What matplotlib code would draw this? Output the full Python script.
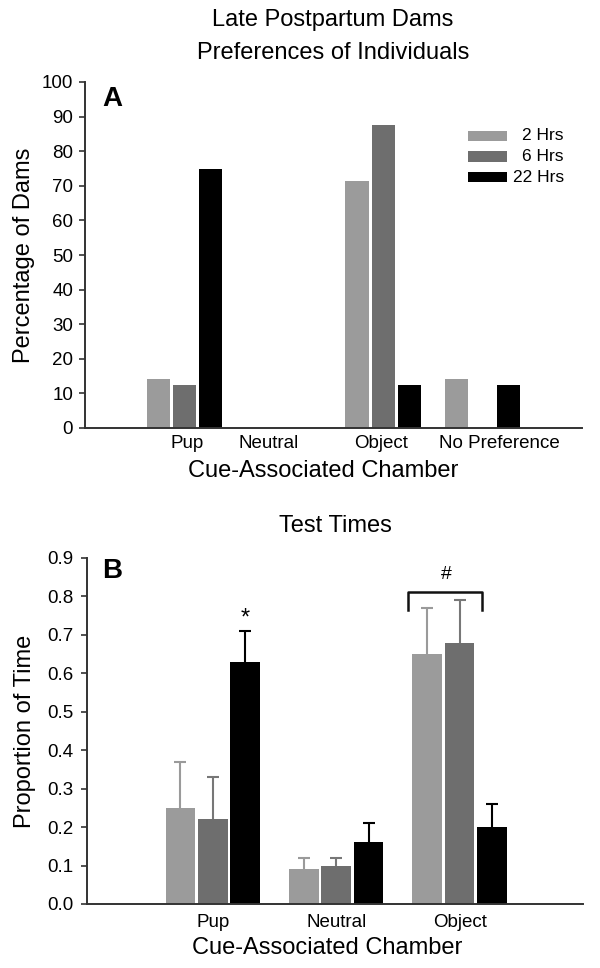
import numpy as np
import matplotlib
matplotlib.use('Agg')
import matplotlib.pyplot as plt
from matplotlib.patches import Rectangle

plt.rcParams['font.family'] = ['Liberation Sans', 'DejaVu Sans']

# panel A data - percentage of dams preferring each chamber
cats_a = ['Pup', 'Neutral', 'Object', 'No Preference']
pct_2h = [14.3, 0, 71.4, 14.3]
pct_6h = [12.5, 0, 87.5, 0]
pct_22h = [75.0, 0, 12.5, 12.5]

# panel B data - proportion of time (mean, upper SEM)
cats_b = ['Pup', 'Neutral', 'Object']
prop_2h = [0.25, 0.09, 0.65]
prop_6h = [0.22, 0.10, 0.68]
prop_22h = [0.63, 0.16, 0.20]
sem_2h = [0.12, 0.03, 0.12]
sem_6h = [0.11, 0.02, 0.11]
sem_22h = [0.08, 0.05, 0.06]

series = ['2 Hrs', '6 Hrs', '22 Hrs']
colors = ['#9b9b9b', '#6e6e6e', '#000000']
err_colors = ['#9a9a9a', '#777777', '#000000']

W, H = 600, 968
fig = plt.figure(figsize=(W / 100, H / 100), dpi=100)

def fx(px):
    return px / W

def fy(py):
    return 1 - py / H

spine_col = '#333333'
tick_fs = 13.5
lab_fs = 17

def style_axes(ax):
    for s in ['top', 'right']:
        ax.spines[s].set_visible(False)
    for s in ['left', 'bottom']:
        ax.spines[s].set_color(spine_col)
        ax.spines[s].set_linewidth(1.4)
    ax.tick_params(axis='y', direction='out', length=4.5, width=1.2,
                   color=spine_col, labelsize=tick_fs, pad=4)

# ---------------- panel A ----------------
axA = fig.add_axes([fx(85), fy(428), fx(497), 346 / H])
step = 0.263
xa = np.arange(len(cats_a))
for i, vals in enumerate([pct_2h, pct_6h, pct_22h]):
    axA.bar(xa + (i - 1) * step, vals, width=0.235, color=colors[i],
            edgecolor='none', zorder=2)
axA.set_xlim(-1.0, 4.0)
axA.set_ylim(0, 100)
axA.set_yticks(np.arange(0, 101, 10))
style_axes(axA)
label_pos_a = [0.025, 0.85, 1.98, 3.17]
axA.set_xticks(label_pos_a)
axA.set_xticklabels(cats_a)
axA.tick_params(axis='x', length=0, labelsize=tick_fs, pad=5)
axA.set_xlabel('Cue-Associated Chamber', fontsize=lab_fs)
axA.xaxis.set_label_coords(0.479, -0.123)
axA.xaxis.label.set_verticalalignment('center')
axA.set_ylabel('Percentage of Dams', fontsize=lab_fs)
axA.yaxis.set_label_coords(-0.123, 0.5)
axA.yaxis.label.set_verticalalignment('center')

fig.text(fx(112), fy(99), 'A', fontsize=20, fontweight='bold',
         ha='center', va='center')
fig.text(fx(333), fy(20), 'Late Postpartum Dams', fontsize=lab_fs,
         ha='center', va='center')
fig.text(fx(333), fy(53), 'Preferences of Individuals', fontsize=lab_fs,
         ha='center', va='center')

# legend drawn by hand (labels right aligned)
for i, (lab, y) in enumerate(zip(series, [136, 156.5, 177])):
    fig.patches.append(Rectangle((fx(468), fy(y + 5)), fx(39), 10 / H,
                                 transform=fig.transFigure,
                                 facecolor=colors[i], edgecolor='none'))
    fig.text(fx(564), fy(y), lab, fontsize=12.5, ha='right', va='center')

# ---------------- panel B ----------------
axB = fig.add_axes([fx(87), fy(904), fx(496), 346 / H])
xb = np.arange(len(cats_b))
for i, (vals, sem) in enumerate(zip([prop_2h, prop_6h, prop_22h],
                                    [sem_2h, sem_6h, sem_22h])):
    pos = xb + (i - 1) * step
    eb = axB.errorbar(pos, vals, yerr=[np.zeros(len(sem)), sem], fmt='none',
                      ecolor=err_colors[i], elinewidth=1.5, capsize=4.5,
                      capthick=1.5, zorder=1)
    eb[1][0].set_visible(False)  # no lower cap
    axB.bar(pos, vals, width=0.24, color=colors[i], edgecolor='none',
            zorder=2)
axB.set_xlim(-1.02, 3.0)
axB.set_ylim(0, 0.9)
axB.set_yticks(np.arange(0, 0.91, 0.1))
axB.set_yticklabels([f'{v:.1f}' for v in np.arange(0, 0.91, 0.1)])
style_axes(axB)
axB.tick_params(axis='y', pad=5)
axB.set_xticks(xb)
axB.set_xticklabels(cats_b)
axB.tick_params(axis='x', length=0, labelsize=tick_fs, pad=7)
axB.set_xlabel('Cue-Associated Chamber', fontsize=lab_fs)
axB.xaxis.set_label_coords(0.485, -0.127)
axB.xaxis.label.set_verticalalignment('center')
axB.set_ylabel('Proportion of Time', fontsize=lab_fs)
axB.yaxis.set_label_coords(-0.124, 0.5)
axB.yaxis.label.set_verticalalignment('center')

# significance marks
axB.text(xb[0] + step, prop_22h[0] + sem_22h[0] + 0.003, '*',
         fontsize=17, ha='center', va='bottom')
bx0, bx1, by_top, by_end = 1.58, 2.18, 0.8125, 0.765
axB.plot([bx0, bx0, bx1, bx1], [by_end, by_top, by_top, by_end],
         color='#111111', lw=1.8, clip_on=False)
axB.text(1.89, 0.856, '#', fontsize=14, ha='center', va='center')

fig.text(fx(112), fy(571), 'B', fontsize=20, fontweight='bold',
         ha='center', va='center')
fig.text(fx(335), fy(526), 'Test Times', fontsize=lab_fs,
         ha='center', va='center')

fig.savefig('out.png', dpi=100)
